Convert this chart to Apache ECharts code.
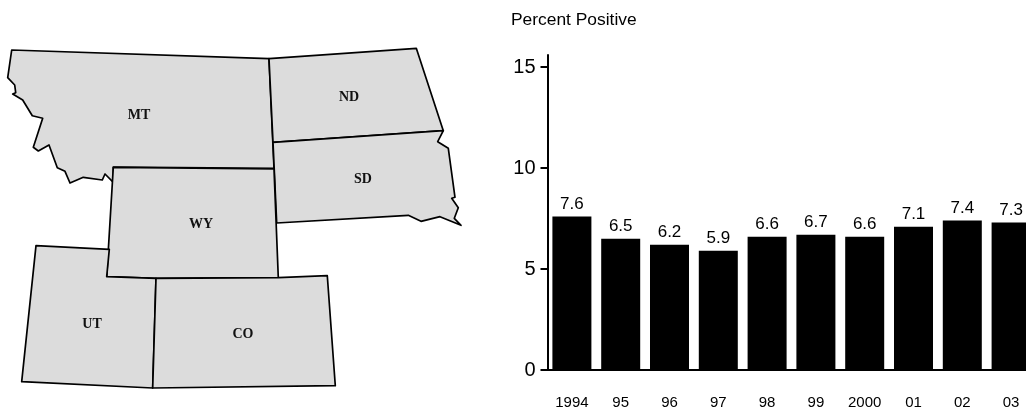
<!DOCTYPE html>
<html>
<head>
<meta charset="utf-8">
<title>Percent Positive</title>
<script src="https://cdn.jsdelivr.net/npm/echarts@6/dist/echarts.min.js"></script>
<style>
html, body { margin: 0; padding: 0; background: #fff; }
#main { width: 1026px; height: 410px; }
</style>
</head>
<body>
<div id="main"></div>
<script>
// bar data
var years = ["1994", "95", "96", "97", "98", "99", "2000", "01", "02", "03"];
var percentPositive = [7.6, 6.5, 6.2, 5.9, 6.6, 6.7, 6.6, 7.1, 7.4, 7.3];
var yTicks = [0, 5, 10, 15];

// state outlines
var stateMT = [[11.7,50],[269,58.7],[274,168.3],[113.3,167],[113.3,182.3],[105,174],[102.3,180],[83.3,177.3],[70,183],[65,171.3],[57.3,167.7],[49,145],[38.3,151],[33.3,147.3],[42.7,118.3],[32.3,115.7],[22.7,100],[12.7,94],[15.7,92.7],[14.7,85],[7.7,77.7],[11.7,50]];
var stateND = [[269,58.7],[416.3,48.3],[443.3,130.7],[273,142.3],[269,58.7]];
var stateSD = [[273,142.3],[443.3,130.7],[437.7,141.7],[448.3,148.3],[455,197.3],[451.7,198.3],[458.3,207.7],[454.3,218.3],[461,225.3],[440,216.7],[421,221.3],[408.3,215.3],[276.7,223],[273,142.3]];
var stateWY = [[113.3,167.3],[274,169],[278.3,277.7],[156,278.3],[106.7,276.7],[113.3,167.3]];
var stateUT = [[36,245.7],[109.3,249.3],[106.7,276.7],[156,278.3],[152.7,388],[21.7,381.7],[36,245.7]];
var stateCO = [[156,278.3],[278.3,277.7],[327.3,275.7],[335.3,385.7],[152.7,388],[156,278.3]];

// label anchor of each state
var labelAnchors = { MT: [139,115], ND: [349,97], SD: [363,179], WY: [201,224], UT: [92,324], CO: [243,334] };

function stateFeature(name, ring) {
  return {
    type: "Feature",
    properties: { name: name, cp: labelAnchors[name] },
    geometry: { type: "Polygon", coordinates: [ring] }
  };
}

echarts.registerMap("states", {
  type: "FeatureCollection",
  features: [
    stateFeature("MT", stateMT),
    stateFeature("ND", stateND),
    stateFeature("SD", stateSD),
    stateFeature("WY", stateWY),
    stateFeature("UT", stateUT),
    stateFeature("CO", stateCO)
  ]
});

var sans = '"Liberation Sans", Arial, sans-serif';

var chart = echarts.init(document.getElementById("main"), null, { renderer: "canvas" });
chart.setOption({
  animation: false,
  backgroundColor: "#fff",
  title: {
    text: "Percent Positive",
    left: 506,
    top: 7,
    textStyle: { fontFamily: sans, fontSize: 17.4, fontWeight: "normal", color: "#000" }
  },
  // 地图
  geo: {
    map: "states",
    roam: false,
    silent: true,
    // outlines are already flat, y down
    projection: {
      project: function (p) { return p; },
      unproject: function (p) { return p; }
    },
    left: 7.7,
    top: 48.3,
    width: 453.3,
    height: 339.7,
    itemStyle: { areaColor: "#dcdcdc", borderColor: "#000", borderWidth: 1.7, borderJoin: "round" },
    label: {
      show: true,
      fontFamily: '"Liberation Serif", "Times New Roman", serif',
      fontSize: 14,
      fontWeight: "bold",
      color: "#111"
    }
  },
  // 柱状图, last bar runs off the right edge
  grid: { left: 547.5, top: 55, width: 488, height: 315, outerBoundsMode: "none" },
  xAxis: {
    type: "category",
    data: years,
    axisLine: { lineStyle: { color: "#000", width: 2 } },
    axisTick: { show: false },
    axisLabel: { margin: 25, fontFamily: sans, fontSize: 15, color: "#000", interval: 0 }
  },
  yAxis: {
    type: "value",
    min: 0,
    max: 15.6,
    splitLine: { show: false },
    axisLine: { show: true, lineStyle: { color: "#000", width: 2 } },
    axisTick: { show: true, length: 7, lineStyle: { color: "#000", width: 2 }, customValues: yTicks },
    axisLabel: { margin: 12, fontFamily: sans, fontSize: 20, color: "#000", customValues: yTicks }
  },
  series: [{
    type: "bar",
    data: percentPositive,
    barWidth: 39,
    itemStyle: { color: "#000" },
    label: {
      show: true,
      position: "top",
      distance: 4,
      fontFamily: sans,
      fontSize: 17,
      color: "#000"
    }
  }]
});
</script>
</body>
</html>
